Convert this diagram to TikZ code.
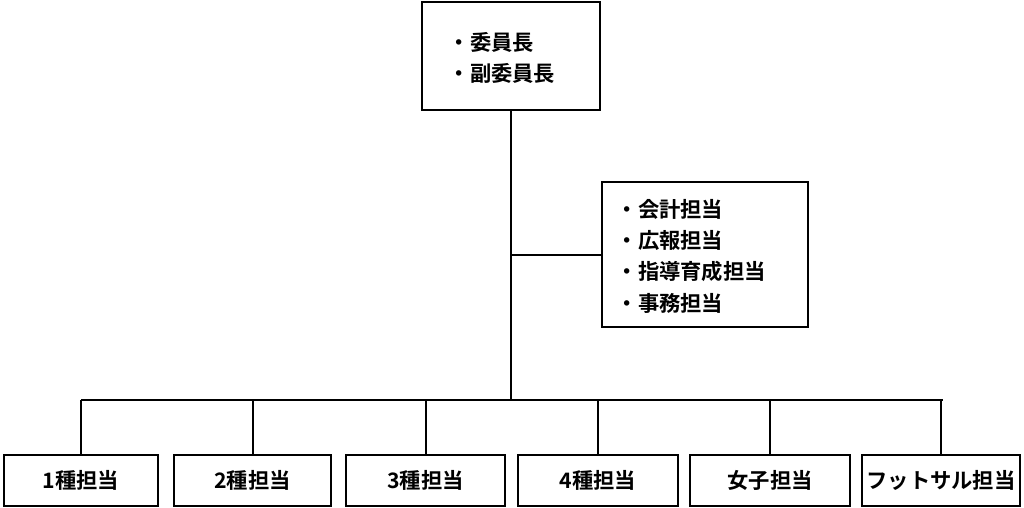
\documentclass[tikz,border=0pt]{standalone}
\usepackage{fontspec}
\setmainfont[BoldFont={Noto Sans CJK JP Bold}]{Noto Sans CJK JP}
\begin{document}
\begin{tikzpicture}[x=0.0264cm,y=-0.0264cm,
  box/.style={draw,line width=1.5pt,inner sep=0pt},
  ln/.style={line width=1.5pt},
  lab/.style={font=\fontsize{16pt}{23.5pt}\selectfont\bfseries}]
\useasboundingbox (0,0) rectangle (1024,508);
\draw[box] (422,2) rectangle (600,110);
\coordinate (topb) at (511,110);
\node[lab,anchor=west,align=left] (t) at (444,58) {・委員長\\・副委員長};
\draw[box] (602,182) rectangle (808,327);
\coordinate (midl) at (602,255);
\node[lab,anchor=west,align=left] (m) at (612,256) {・会計担当\\・広報担当\\・指導育成担当\\・事務担当};
\coordinate (j) at (511,255);
\coordinate (bus) at (511,400);
\draw[ln] (topb) -- (bus);
\draw[ln] (j) -- (midl);
\draw[ln] (81,400) -- (943,400);
\foreach \xa/\xb/\t [count=\i] in {4/158/1種担当,174/331/2種担当,346/505/3種担当,518/678/4種担当,690/850/女子担当,862/1020/フットサル担当}{
  \draw[box] (\xa,455) rectangle (\xb,506);
  \node[lab] (b\i) at ({(\xa+\xb)/2},480) {\t};
  \draw[ln] ({(\xa+\xb)/2},400) -- ({(\xa+\xb)/2},455);
}
\end{tikzpicture}
\end{document}
